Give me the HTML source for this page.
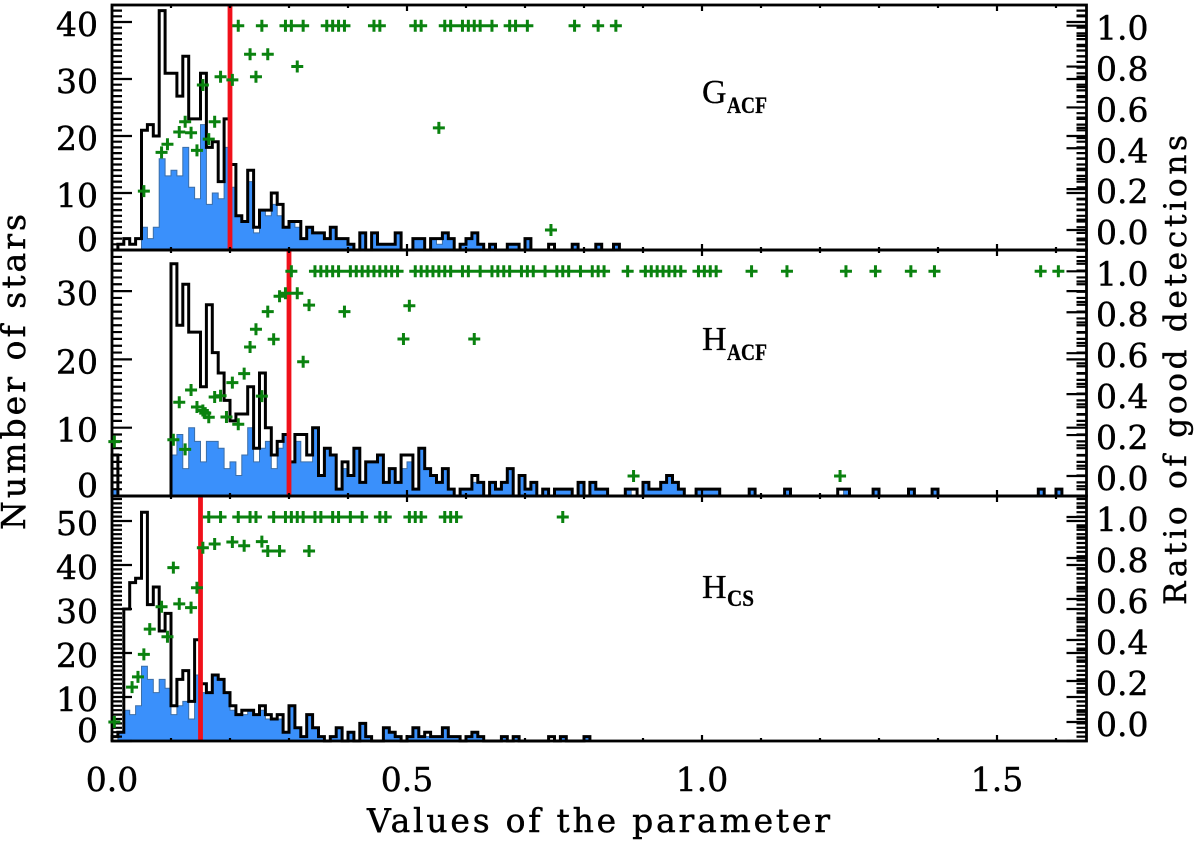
<!DOCTYPE html>
<html lang="en">
<head>
<meta charset="utf-8">
<title>Histograms of parameter values</title>
<style>
html,body{margin:0;padding:0;background:#fff;width:1200px;height:844px;overflow:hidden}
svg{display:block}
text{fill:#000;stroke:#000;stroke-width:.45px;font-family:"DejaVu Serif","Liberation Serif",serif}
.lbl{font-family:"Liberation Serif","DejaVu Serif",serif;stroke-width:.3px}
</style>
</head>
<body>
<svg id="chart" xmlns="http://www.w3.org/2000/svg" width="1200" height="844" viewBox="0 0 1200 844">
  <text x="367" y="832" font-size="33" textLength="463" lengthAdjust="spacing">Values of the parameter</text>
  <text transform="translate(25,530) rotate(-90)" font-size="33" textLength="316" lengthAdjust="spacing">Number of stars</text>
  <text transform="translate(1186,605) rotate(-90)" font-size="31" textLength="470" lengthAdjust="spacing">Ratio of good detections</text>
  <g>
    <text class="lbl" x="702" y="103" font-size="34">G</text>
    <text class="lbl" x="727" y="113" font-size="23" font-weight="bold" textLength="40" lengthAdjust="spacingAndGlyphs">ACF</text>
  </g>
  <g>
    <text class="lbl" x="702" y="350" font-size="34">H</text>
    <text class="lbl" x="727" y="360" font-size="23" font-weight="bold" textLength="40" lengthAdjust="spacingAndGlyphs">ACF</text>
  </g>
  <g>
    <text class="lbl" x="702" y="598" font-size="34">H</text>
    <text class="lbl" x="727" y="606" font-size="23" font-weight="bold" textLength="27" lengthAdjust="spacingAndGlyphs">CS</text>
  </g>
</svg>
<script>
// ---------- data ----------
var binWidth = 0.01;
var xTickValues = [0, 0.5, 1, 1.5];
var xTickLabels = ['0.0', '0.5', '1.0', '1.5'];
var ratioTickValues = [0, 0.2, 0.4, 0.6, 0.8, 1];
var ratioTickLabels = ['0.0', '0.2', '0.4', '0.6', '0.8', '1.0'];

var gacfCountTicks = [0, 10, 20, 30, 40];
var hacfCountTicks = [0, 10, 20, 30];
var hcsCountTicks = [0, 10, 20, 30, 40, 50];

var gacfThreshold = 0.2;
var hacfThreshold = 0.3;
var hcsThreshold = 0.15;

var gacfTotal = [
0,1,2,1,2,21,22,20,42,31,
31,27,34,23,23,31,18,19,12,23,
15,6,5,14,4,7,7,10,8,4,
5,5,2,4,3,3,2,4,2,2,
1,0,3,0,3,1,1,1,3,0,
0,2,2,0,2,2,3,2,0,1,
2,3,1,0,1,0,0,1,1,0,
2,0,0,0,1,0,0,0,1,0,
0,0,1,0,0,1];
var gacfGood = [
0,0,0,0,0,4,2,4,16,13,
14,13,18,11,9,22,8,10,9,18,
11,6,5,12,3,7,6,8,6,4,
5,4,2,4,3,3,2,4,2,2,
1,0,3,0,3,1,1,1,3,0,
0,2,2,0,2,1,3,2,0,1,
2,3,1,0,1,0,0,1,1,0,
2,0,0,0,0,0,0,0,1,0,
0,0,1,0,0,1];
var gacfRatioX = [
.054,.084,.094,.114,.124,.134,.144,.154,.164,.174,
.184,.204,.214,.234,.244,.254,.264,.294,.304,.314,
.324,.364,.374,.384,.394,.444,.454,.514,.524,.554,
.564,.574,.594,.604,.614,.624,.644,.674,.684,.704,
.744,.784,.824,.854];
var gacfRatio = [
.19,.38,.42,.48,.53,.476,.39,.71,.445,.53,
.75,.735,1,.86,.75,1,.86,1,1,.8,
1,1,1,1,1,1,1,1,1,.5,
1,1,1,1,1,1,1,1,1,1,
0,1,1,1];

var hacfTotal = [
6,0,0,0,0,0,0,0,0,0,
34,25,31,24,24,16,28,21,18,14,
11,12,12,16,7,18,10,6,8,9,
5,9,9,6,10,3,7,6,1,5,
3,7,2,5,5,6,2,4,2,6,
6,1,7,4,3,2,4,1,0,1,
1,3,2,0,2,1,2,4,0,3,
1,2,0,1,0,1,1,1,0,2,
0,2,1,1,0,0,0,1,1,0,
2,1,1,2,3,2,1,0,0,1,
1,1,1,0,0,0,0,0,1,0,
0,0,0,0,1,0,0,0,0,0,
0,0,0,1,1,0,0,0,0,1,
0,0,0,0,0,1,0,0,0,1,
0,0,0,0,0,0,0,0,0,0,
0,0,0,0,0,0,0,1,0,0,
1];
var hacfGood = [
1,0,0,0,0,0,0,0,0,0,
6,9,4,10,8,5,8,8,7,4,
5,3,6,10,5,7,8,4,7,9,
5,8,5,5,10,3,7,6,1,4,
3,7,2,5,5,6,2,4,2,4,
5,1,7,4,3,2,4,1,0,1,
1,2,2,0,2,1,2,4,0,3,
1,2,0,1,0,1,1,1,0,2,
0,2,1,1,0,0,0,1,0,0,
2,1,1,2,3,2,1,0,0,1,
1,1,1,0,0,0,0,0,1,0,
0,0,0,0,1,0,0,0,0,0,
0,0,0,0,1,0,0,0,0,1,
0,0,0,0,0,1,0,0,0,1,
0,0,0,0,0,0,0,0,0,0,
0,0,0,0,0,0,0,1,0,0,
1];
var hacfRatioX = [
.004,.104,.114,.124,.134,.144,.154,.158,.164,.174,
.184,.194,.204,.214,.224,.234,.244,.254,.264,.274,
.284,.294,.314,.324,.334,.394,.494,.504,.614,.884,
1.234,
.304,.344,.354,.364,.374,.384,.404,.414,.424,.434,
.444,.454,.464,.474,.484,.514,.524,.534,.544,.554,
.564,.574,.594,.604,.624,.644,.654,.664,.674,.694,
.704,.714,.734,.754,.764,.774,.794,.814,.824,.834,
.874,.904,.914,.924,.934,.944,.954,.964,.994,1.004,
1.014,1.024,1.084,1.144,1.244,1.294,1.354,1.394,1.574,1.604];
var hacfRatio = [
.168,.177,.36,.13,.42,.337,.32,.307,.287,.386,
.392,.288,.456,.253,.5,.63,.717,.39,.803,.668,
.878,.893,.893,.558,.835,.803,.669,.832,.669,0,
0,
1,1,1,1,1,1,1,1,1,1,
1,1,1,1,1,1,1,1,1,1,
1,1,1,1,1,1,1,1,1,1,
1,1,1,1,1,1,1,1,1,1,
1,1,1,1,1,1,1,1,1,1,
1,1,1,1,1,1,1,1,1,1];

var hcsTotal = [
1,2,30,36,37,52,31,35,25,29,
8,14,16,9,23,13,11,15,14,11,
8,6,7,7,6,8,6,5,6,2,
8,3,1,6,3,1,0,1,3,0,
2,0,4,1,0,0,3,2,1,0,
1,3,1,2,1,1,3,1,1,0,
1,2,1,0,0,0,1,0,1,0,
0,0,0,0,1,0,1,0,0,0,
1];
var hcsGood = [
0,2,7,6,8,17,14,11,14,12,
6,8,9,5,15,11,11,15,14,11,
7,6,6,7,6,7,5,5,5,2,
8,3,1,6,3,1,0,1,3,0,
2,0,4,1,0,0,3,2,1,0,
1,3,1,1,1,1,3,1,1,0,
1,2,1,0,0,0,1,0,1,0,
0,0,0,0,0,0,1,0,0,0,
1];
var hcsRatioX = [
.004,.034,.044,.054,.064,.084,.094,.104,.114,.134,
.144,.154,.174,.204,.224,.254,.264,.284,.334,
.164,.184,.214,.234,.244,.274,.294,.304,.314,
.324,.344,.354,.374,.384,.404,.424,.454,.464,.504,
.514,.524,.564,.574,.584,.764];
var hcsRatio = [
0,.17,.22,.33,.453,.562,.416,.753,.576,.558,
.655,.85,.868,.878,.86,.88,.834,.834,.834,
1,1,1,1,1,1,1,1,1,
1,1,1,1,1,1,1,1,1,1,
1,1,1,1,1,1];

// ---------- drawing ----------
var NS = 'http://www.w3.org/2000/svg';
var svg = document.getElementById('chart');
var LEFT = 112, RIGHT = 1086.5;
function xAxis(v){ return LEFT + 590 * v; }
function make(tag, parent, attrs){
  var el = document.createElementNS(NS, tag);
  for (var k in attrs) el.setAttribute(k, attrs[k]);
  parent.appendChild(el);
  return el;
}
function stepPath(vals, yf, base){
  var d = 'M' + xAxis(0).toFixed(2) + ' ' + base;
  for (var i = 0; i < vals.length; i++){
    var x0 = xAxis(i * binWidth).toFixed(2), x1 = xAxis((i + 1) * binWidth).toFixed(2), y = yf(vals[i]).toFixed(2);
    d += 'L' + x0 + ' ' + y + 'L' + x1 + ' ' + y;
  }
  return d + 'L' + xAxis(vals.length * binWidth).toFixed(2) + ' ' + base;
}
function drawPanel(cfg){
  var countY = function(c){ return cfg.bottom - c * cfg.unit; };
  var ratioY = function(r){ return cfg.ratio0 - r * cfg.ratioUnit; };
  var g = make('g', svg, {});
  
  

  var good = make('path', g, {d: stepPath(cfg.good, countY, cfg.bottom) + 'Z', fill: '#3a90fb', stroke: '#3b6ea8', 'stroke-width': 1});
  
  

  var total = make('path', g, {d: stepPath(cfg.total, countY, cfg.bottom), fill: 'none', stroke: '#000', 'stroke-width': 3, 'stroke-linejoin': 'miter'});
  
  

  var red = make('line', g, {x1: xAxis(cfg.threshold), x2: xAxis(cfg.threshold), y1: cfg.top, y2: cfg.bottom, stroke: '#f0101a', 'stroke-width': 4.8});
  
  

  // ticks
  var d = '';
  var minC = Math.ceil(cfg.maxCount);
  for (var c = 0; c <= minC; c++){
    var y = countY(c);
    if (y < cfg.top) break;
    var major = c % 10 === 0;
    var len = major ? 20 : 10;
    d += 'M' + LEFT + ' ' + y + 'h' + len + 'M' + RIGHT + ' ' + y + 'h' + (-len);
  }
  for (var q = -2; q <= 22; q++){
    var ry = ratioY(q * 0.05);
    if (ry < cfg.top || ry > cfg.bottom) continue;
    var rlen = q % 4 === 0 ? 20 : 10;
    d += 'M' + RIGHT + ' ' + ry.toFixed(2) + 'h' + (-rlen);
  }
  for (var t = 0; t <= 16; t++){
    var tx = xAxis(t * 0.1);
    var tl = t % 5 === 0 ? 6 : 3;
    d += 'M' + tx + ' ' + cfg.bottom + 'v' + (-tl) + 'M' + tx + ' ' + cfg.top + 'v' + tl;
  }
  var ticks = make('path', g, {d: d, fill: 'none', stroke: '#000', 'stroke-width': 2.2});
  
  

  var frame = make('rect', g, {x: LEFT, y: cfg.top, width: RIGHT - LEFT, height: cfg.bottom - cfg.top, fill: 'none', stroke: '#000', 'stroke-width': 2.8});
  
  

  // left tick labels
  cfg.countTicks.forEach(function(c){
    var lab = make('text', g, {x: 98, y: c === 0 ? cfg.bottom + 1 : countY(c) + 14, 'font-size': 33, 'text-anchor': 'end'});
    lab.textContent = String(c);
    
    
  });
  // right tick labels
  ratioTickValues.forEach(function(r, i){
    var lab = make('text', g, {x: 1096, y: ratioY(r) + 14, 'font-size': 33});
    lab.textContent = ratioTickLabels[i];
    
    
  });

  // ratio points
  var pd = '';
  cfg.ratioX.forEach(function(x, i){
    var px = xAxis(x), py = ratioY(cfg.ratio[i]);
    pd += 'M' + (px - 6).toFixed(2) + ' ' + py.toFixed(2) + 'h12M' + px.toFixed(2) + ' ' + (py - 6).toFixed(2) + 'v12';
  });
  var pts = make('path', g, {d: pd, fill: 'none', stroke: '#0a820f', 'stroke-width': 3});
  
  
}

drawPanel({name: 'g-acf', top: 5, bottom: 250, unit: 5.7, ratio0: 230, ratioUnit: 204.3, maxCount: 43,
  total: gacfTotal, good: gacfGood, ratioX: gacfRatioX, ratio: gacfRatio, threshold: gacfThreshold, countTicks: gacfCountTicks});
drawPanel({name: 'h-acf', top: 250, bottom: 496, unit: 6.83, ratio0: 476, ratioUnit: 204.7, maxCount: 36,
  total: hacfTotal, good: hacfGood, ratioX: hacfRatioX, ratio: hacfRatio, threshold: hacfThreshold, countTicks: hacfCountTicks});
drawPanel({name: 'h-cs', top: 496, bottom: 741, unit: 4.4, ratio0: 722, ratioUnit: 205, maxCount: 55,
  total: hcsTotal, good: hcsGood, ratioX: hcsRatioX, ratio: hcsRatio, threshold: hcsThreshold, countTicks: hcsCountTicks});

xTickValues.forEach(function(v, i){
  var lab = make('text', svg, {x: xAxis(v), y: 791, 'font-size': 33, 'text-anchor': 'middle'});
  lab.textContent = xTickLabels[i];
  
  
});
</script>
</body>
</html>
